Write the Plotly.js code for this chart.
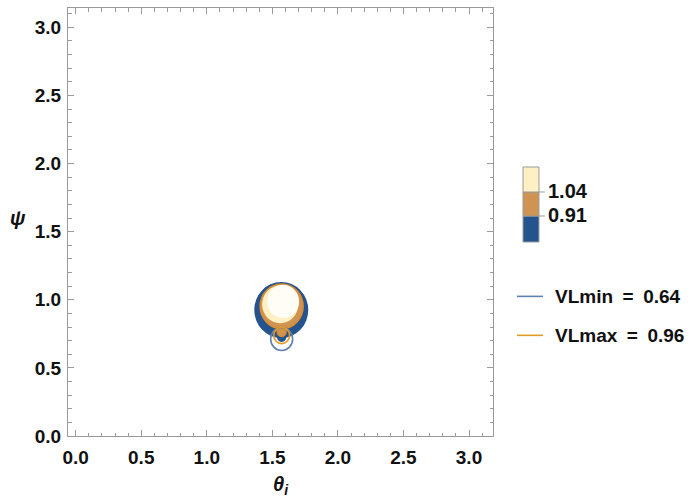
<!DOCTYPE html>
<html>
<head>
<meta charset="utf-8">
<script src="https://cdn.plot.ly/plotly-3.0.1.min.js"></script>
<style>
html,body{margin:0;padding:0;background:#fff;}
#chart{width:693px;height:501px;}
</style>
</head>
<body>
<div id="chart"></div>
<script>
// ---- data ----
// contour regions (filled discs, drawn back to front): centre x, centre y, radius (data units)
var regionX = [1.568, 1.571, 1.571, 1.571, 1.560, 1.582];
var regionY = [0.925, 0.726, 0.765, 0.952, 0.966, 0.988];
var regionR = [0.206, 0.036, 0.034, 0.164, 0.138, 0.122];
var regionBand = [0, 0, 1, 1, 2, 3];   // index into bandColors

// colour bands and their boundary levels
var bandLevels = [0.91, 1.04];
var bandColors = ['#24538e', '#cf9452', '#fff0c4', '#fffdf6'];

// VL contour lines
var vlNames = ['VLmin', 'VLmax'];
var vlValues = [0.64, 0.96];
var vlX = [1.571, 1.571];
var vlY = [0.712, 0.738];
var vlR = [0.084, 0.060];
var vlColors = ['#5E81B5', '#E19C24'];

// axis ticks
var tickVals = [0, 0.5, 1.0, 1.5, 2.0, 2.5, 3.0];
var tickText = ['0.0', '0.5', '1.0', '1.5', '2.0', '2.5', '3.0'];

// ---- build figure ----
var fontFam = 'Liberation Sans, Arial, sans-serif';
var frameCol = '#9a9a9a';
var shapes = [];
for (var i = 0; i < regionX.length; i++) {
  var c = bandColors[regionBand[i]];
  var isTan = regionBand[i] === 1;
  shapes.push({type: 'circle', xref: 'x', yref: 'y', layer: 'above',
    x0: regionX[i] - regionR[i], x1: regionX[i] + regionR[i],
    y0: regionY[i] - regionR[i], y1: regionY[i] + regionR[i],
    fillcolor: c, line: {color: isTan ? '#d88c2e' : c, width: isTan ? 1.5 : 0}});
}
for (var j = 0; j < vlX.length; j++) {
  shapes.push({type: 'circle', xref: 'x', yref: 'y', layer: 'above',
    x0: vlX[j] - vlR[j], x1: vlX[j] + vlR[j],
    y0: vlY[j] - vlR[j], y1: vlY[j] + vlR[j],
    fillcolor: 'rgba(0,0,0,0)', line: {color: vlColors[j], width: 1.6}});
}

// colour bar (paper coordinates, outside the plot to the right)
var cbX0 = 1.0706, cbX1 = 1.1082;
var cbY = [0.4533, 0.5140, 0.5701, 0.6285];
var annotations = [];
for (var k = 0; k < 3; k++) {
  shapes.push({type: 'rect', xref: 'paper', yref: 'paper',
    x0: cbX0, x1: cbX1, y0: cbY[k], y1: cbY[k + 1],
    fillcolor: bandColors[k], line: {color: '#9a9a9a', width: 1}});
}
for (var m = 0; m < bandLevels.length; m++) {
  shapes.push({type: 'line', xref: 'paper', yref: 'paper',
    x0: cbX1, x1: cbX1 + 0.014, y0: cbY[m + 1], y1: cbY[m + 1],
    line: {color: '#9a9a9a', width: 1}});
  annotations.push({xref: 'paper', yref: 'paper', x: 1.124, y: cbY[m + 1] + 0.002,
    xanchor: 'left', yanchor: 'middle', showarrow: false,
    text: '<b>' + bandLevels[m].toFixed(2) + '</b>',
    font: {family: fontFam, size: 20, color: '#111'}});
}

// VL legend
var legY = [0.3262, 0.2352];
for (var n = 0; n < vlNames.length; n++) {
  shapes.push({type: 'line', xref: 'paper', yref: 'paper',
    x0: 1.0565, x1: 1.1176, y0: legY[n], y1: legY[n],
    line: {color: vlColors[n], width: 1.6}});
  annotations.push({xref: 'paper', yref: 'paper', x: 1.142, y: legY[n],
    xanchor: 'left', yanchor: 'middle', showarrow: false,
    text: '<b>' + vlNames[n] + '\u2002=\u2002' + vlValues[n].toFixed(2) + '</b>',
    font: {family: fontFam, size: 19, color: '#111'}});
}

// y axis title (horizontal, as in the reference)
annotations.push({xref: 'paper', yref: 'paper', x: -0.118, y: 0.509,
  xanchor: 'center', yanchor: 'middle', showarrow: false,
  text: '<b><i>ψ</i></b>', font: {family: fontFam, size: 20, color: '#111'}});

var axisCommon = {
  showgrid: false, zeroline: false, showline: true, linecolor: frameCol, linewidth: 1,
  mirror: 'ticks', ticks: 'inside', ticklen: 6, tickwidth: 1, tickcolor: frameCol,
  tickmode: 'array', tickvals: tickVals, ticktext: tickText,
  tickfont: {family: fontFam, size: 19, color: '#111', weight: 'bold'},
  minor: {ticks: 'inside', ticklen: 3.5, tickwidth: 1, tickcolor: frameCol, dtick: 0.1, tick0: 0, showgrid: false}
};

var xaxis = Object.assign({}, axisCommon, {
  range: [-0.0587, 3.183],
  ticklabelstandoff: 4,
  title: {text: '<b><i>θ<sub>i</sub></i></b>', font: {family: fontFam, size: 20, color: '#111'}, standoff: 10}
});
var yaxis = Object.assign({}, axisCommon, {
  range: [0, 3.1416],
  ticklabelstandoff: 2
});

var traces = [{x: [], y: [], type: 'scatter', mode: 'lines', showlegend: false, hoverinfo: 'skip'}];

var layout = {
  width: 693, height: 501,
  margin: {l: 68, r: 200, t: 8, b: 65},
  paper_bgcolor: '#ffffff', plot_bgcolor: '#ffffff',
  showlegend: false,
  xaxis: xaxis, yaxis: yaxis,
  shapes: shapes, annotations: annotations,
  font: {family: fontFam}
};

Plotly.newPlot('chart', traces, layout, {staticPlot: true, displayModeBar: false});
</script>
</body>
</html>
